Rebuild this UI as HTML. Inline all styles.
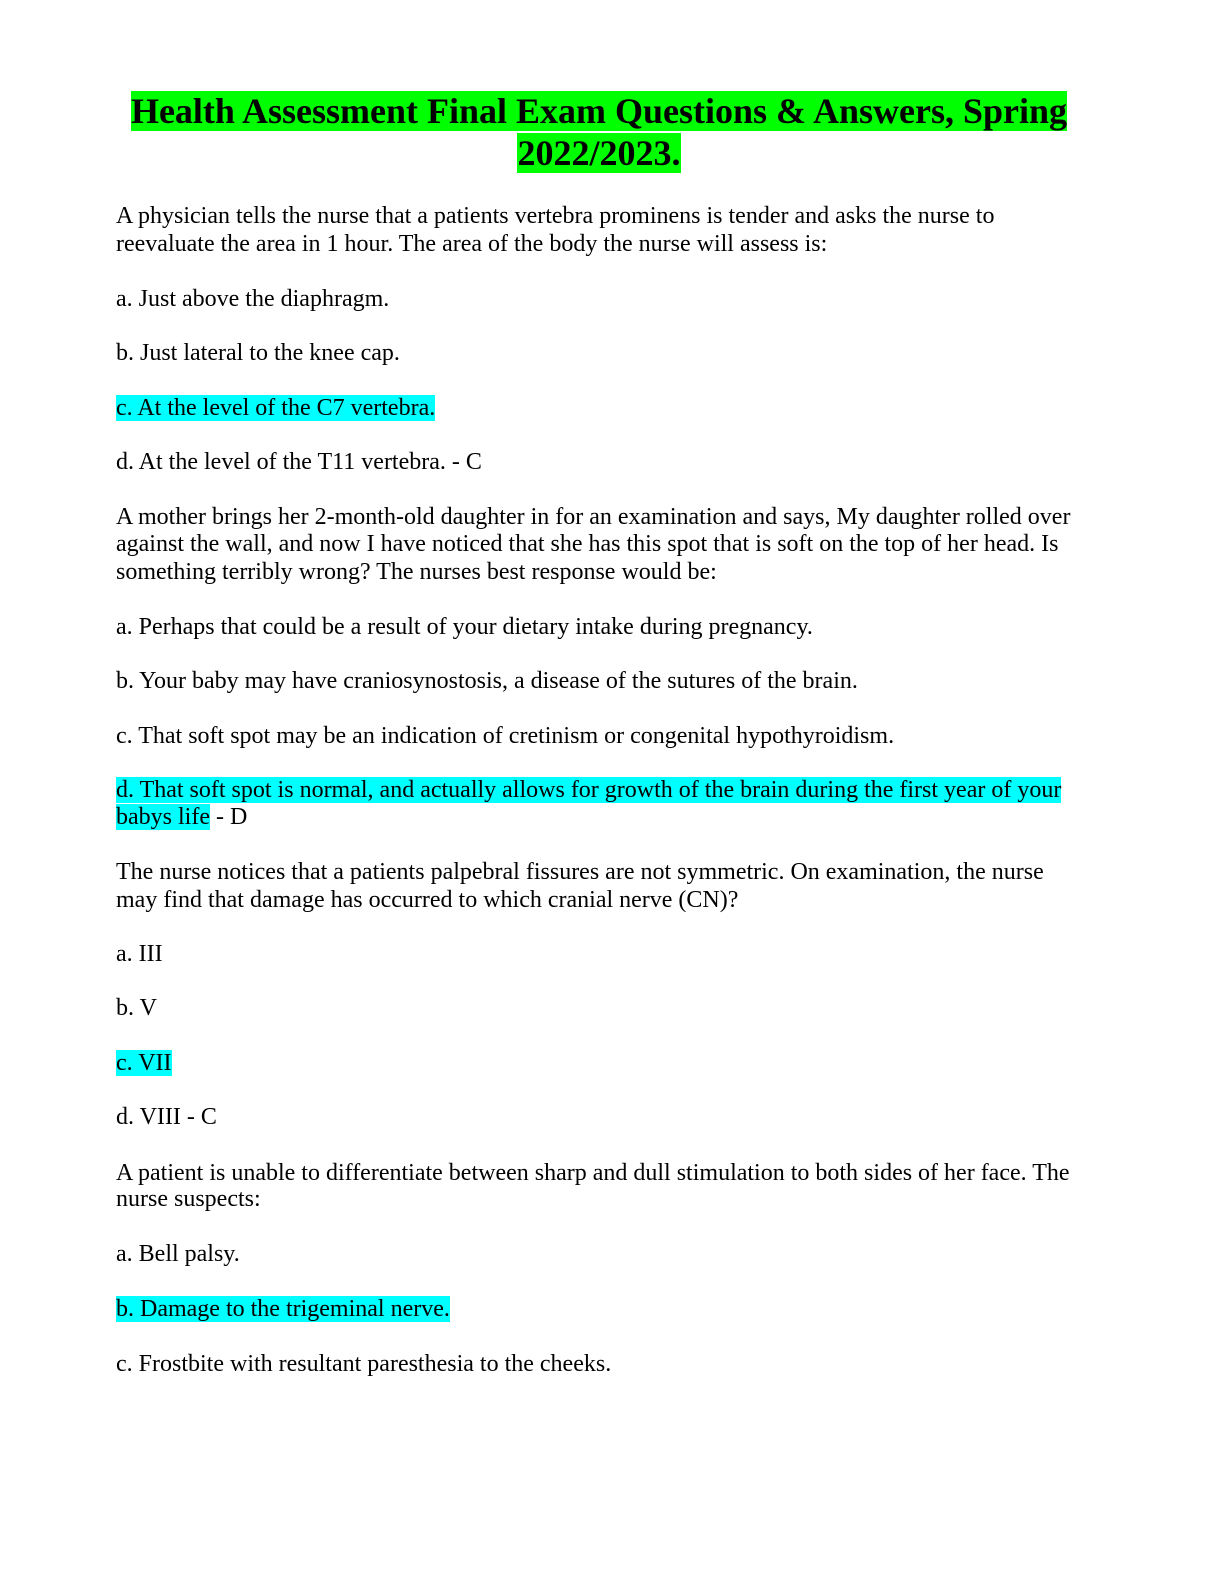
<!DOCTYPE html>
<html><head><meta charset="utf-8"><style>
html,body{margin:0;padding:0;background:#fff;}
body{width:1224px;height:1584px;position:relative;overflow:hidden;font-family:"Liberation Serif","Times New Roman",serif;color:#000;}
.t{position:absolute;left:0;width:1198px;text-align:center;font-weight:bold;font-size:36px;line-height:42px;}
.t span{background:#00ff00;}
.l{position:absolute;left:116px;font-size:24px;line-height:28px;white-space:nowrap;}
.h{background:#00ffff;}
</style></head><body>
<div class="t" style="top:90px"><span>Health Assessment Final Exam Questions &amp; Answers, Spring</span></div>
<div class="t" style="top:132px"><span>2022/2023.</span></div>

<div class="l" style="top:202px">A physician tells the nurse that a patients vertebra prominens is tender and asks the nurse to</div>
<div class="l" style="top:230px">reevaluate the area in 1 hour. The area of the body the nurse will assess is:</div>
<div class="l" style="top:285px">a. Just above the diaphragm.</div>
<div class="l" style="top:339px">b. Just lateral to the knee cap.</div>
<div class="l" style="top:394px"><span class="h">c. At the level of the C7 vertebra.</span></div>
<div class="l" style="top:448px">d. At the level of the T11 vertebra. - C</div>
<div class="l" style="top:503px">A mother brings her 2-month-old daughter in for an examination and says, My daughter rolled over</div>
<div class="l" style="top:530px">against the wall, and now I have noticed that she has this spot that is soft on the top of her head. Is</div>
<div class="l" style="top:558px">something terribly wrong? The nurses best response would be:</div>
<div class="l" style="top:613px">a. Perhaps that could be a result of your dietary intake during pregnancy.</div>
<div class="l" style="top:667px">b. Your baby may have craniosynostosis, a disease of the sutures of the brain.</div>
<div class="l" style="top:722px">c. That soft spot may be an indication of cretinism or congenital hypothyroidism.</div>
<div class="l" style="top:776px"><span class="h">d. That soft spot is normal, and actually allows for growth of the brain during the first year of your</span></div>
<div class="l" style="top:803px"><span class="h">babys life</span> - D</div>
<div class="l" style="top:858px">The nurse notices that a patients palpebral fissures are not symmetric. On examination, the nurse</div>
<div class="l" style="top:886px">may find that damage has occurred to which cranial nerve (CN)?</div>
<div class="l" style="top:940px">a. III</div>
<div class="l" style="top:994px">b. V</div>
<div class="l" style="top:1049px"><span class="h">c. VII</span></div>
<div class="l" style="top:1103px">d. VIII - C</div>
<div class="l" style="top:1159px">A patient is unable to differentiate between sharp and dull stimulation to both sides of her face. The</div>
<div class="l" style="top:1185px">nurse suspects:</div>
<div class="l" style="top:1240px">a. Bell palsy.</div>
<div class="l" style="top:1295px"><span class="h">b. Damage to the trigeminal nerve.</span></div>
<div class="l" style="top:1350px">c. Frostbite with resultant paresthesia to the cheeks.</div>
</body></html>
